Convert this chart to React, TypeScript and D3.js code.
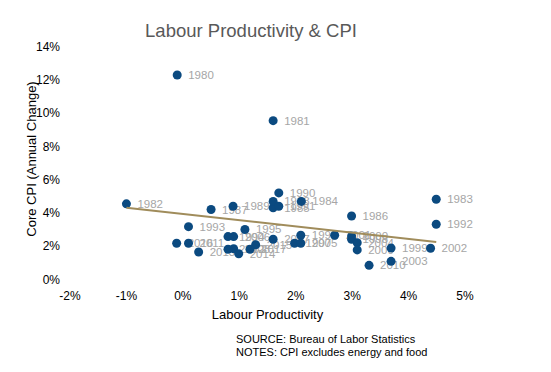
import React from 'react';
import * as d3 from 'd3';

// year labels and values
const years = [
  1980, 1981, 1982, 1983, 1984, 1985, 1986, 1987, 1988, 1989,
  1990, 1991, 1992, 1993, 1994, 1995, 1996, 1997, 1998, 1999,
  2000, 2001, 2002, 2003, 2004, 2005, 2006, 2007, 2008, 2009,
  2010, 2011, 2012, 2013, 2014, 2015, 2016, 2017,
];
const productivity = [
  -0.1, 1.6, -1.0, 4.49, 2.1, 1.6, 2.99, 0.5, 1.6, 0.89,
  1.7, 1.7, 4.49, 0.1, 0.8, 1.1, 2.09, 1.98, 2.99, 3.69,
  2.99, 2.69, 4.39, 3.69, 3.09, 2.09, 0.9, 1.6, 0.9, 3.09,
  3.3, 0.1, 0.8, 0.28, 0.99, 1.29, -0.11, 1.19,
];
const coreCpi = [
  12.3, 9.55, 4.54, 4.82, 4.69, 4.3, 3.81, 4.2, 4.69, 4.4,
  5.2, 4.4, 3.31, 3.17, 2.57, 3.0, 2.65, 2.17, 2.41, 1.88,
  2.6, 2.65, 1.87, 1.08, 2.2, 2.17, 2.57, 2.41, 1.84, 1.77,
  0.84, 2.17, 1.81, 1.64, 1.54, 2.08, 2.17, 1.81,
];
const trendX = [-1.0, 4.49];
const trendY = [4.31, 2.25];
const xTicks = [-2, -1, 0, 1, 2, 3, 4, 5];
const yTicks = [0, 2, 4, 6, 8, 10, 12, 14];

const font = '"Liberation Sans", Arial, sans-serif';

export default function App() {
  const width = 551;
  const height = 372;

  const x = d3.scaleLinear().domain([-2, 5]).range([70, 465]);
  const y = d3.scaleLinear().domain([0, 14]).range([279.3, 46.7]);

  const points = years.map((yr, i) => ({ yr, px: productivity[i], cpi: coreCpi[i] }));
  const trend = d3
    .line<number>()
    .x((d) => x(d))
    .y((_, i) => y(trendY[i]));

  return (
    <svg
      width={width}
      height={height}
      style={{ position: 'absolute', left: 0, top: 0, background: '#fff' }}
      fontFamily={font}
    >
      <text x={251} y={37} textAnchor="middle" fontSize={18.5} fill="#595959">
        Labour Productivity &amp; CPI
      </text>

      {/* y ticks */}
      {yTicks.map((t) => (
        <text key={t} x={60} y={y(t)} dy="0.35em" textAnchor="end" fontSize={12} fill="#000">
          {t}%
        </text>
      ))}
      {/* x ticks */}
      {xTicks.map((t) => (
        <text key={t} x={x(t)} y={296} dy="0.35em" textAnchor="middle" fontSize={12} fill="#000">
          {t}%
        </text>
      ))}

      <text
        transform={`translate(31,${(y(0) + y(14)) / 2 - 4}) rotate(-90)`}
        textAnchor="middle"
        dy="0.35em"
        fontSize={13}
        fill="#000"
      >
        Core CPI (Annual Change)
      </text>
      <text x={(x(-2) + x(5)) / 2} y={314} dy="0.35em" textAnchor="middle" fontSize={13} fill="#000">
        Labour Productivity
      </text>

      {/* labels under the dots */}
      {points.map((p) => (
        <text
          key={'l' + p.yr}
          x={x(p.px) + 11}
          y={y(p.cpi)}
          dy="0.35em"
          fontSize={11.5}
          fill="#a6a6a6"
        >
          {p.yr}
        </text>
      ))}

      {points.map((p) => (
        <circle key={'c' + p.yr} cx={x(p.px)} cy={y(p.cpi)} r={4.5} fill="#0b4a80" />
      ))}

      <path d={trend(trendX) || ''} fill="none" stroke="#a08c5b" strokeWidth={2} />

      <text x={236} y={339} dy="0.35em" fontSize={11} fill="#000">
        SOURCE: Bureau of Labor Statistics
      </text>
      <text x={236} y={352} dy="0.35em" fontSize={11} fill="#000">
        NOTES: CPI excludes energy and food
      </text>
    </svg>
  );
}
